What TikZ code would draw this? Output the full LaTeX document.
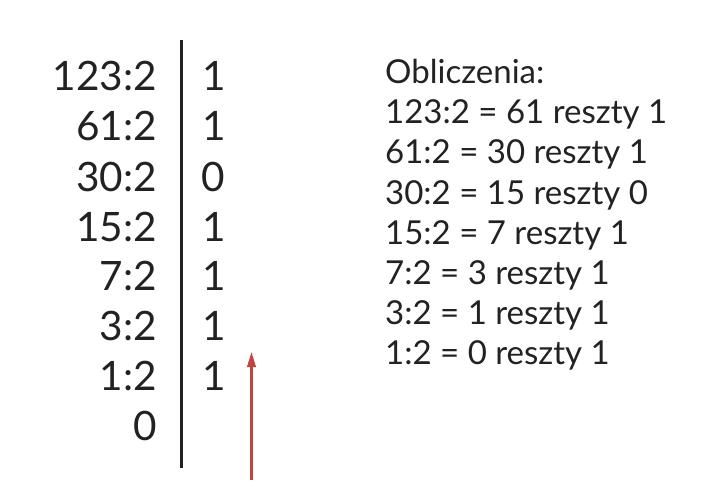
\documentclass[tikz,border=0pt]{standalone}
\usepackage{fontspec}
\setmainfont{Lato}
\usetikzlibrary{arrows.meta}
\definecolor{txt}{HTML}{222222}
\definecolor{arr}{HTML}{C0443F}
\tikzset{
  divl/.style={font=\fontsize{40.5}{40.5}\selectfont, text=txt, anchor=base east, inner sep=0pt},
  rem/.style={font=\fontsize{40.5}{40.5}\selectfont, text=txt, anchor=base, inner sep=0pt},
  calc/.style={font=\fontsize{33}{33}\selectfont, text=txt, anchor=base west, inner sep=0pt},
  bar/.style={line width=3pt, draw=txt},
  upar/.style={line width=2.2pt, draw=arr, -{Triangle[length=15pt,width=8.5pt]}}
}
\begin{document}
\begin{tikzpicture}[x=1pt,y=-1pt]
\useasboundingbox (0,0) rectangle (720,500);
% left column
\node[divl] (d1) at (157,91) {123:2};
\node[divl] (d2) at (157,141) {61:2};
\node[divl] (d3) at (157,191) {30:2};
\node[divl] (d4) at (157,241) {15:2};
\node[divl] (d5) at (157,290) {7:2};
\node[divl] (d6) at (157,340) {3:2};
\node[divl] (d7) at (157,390) {1:2};
\node[divl] (d8) at (157,440) {0};
% remainders
\node[rem] (r1) at (214,91) {1};
\node[rem] (r2) at (214,141) {1};
\node[rem] (r3) at (213,191) {0};
\node[rem] (r4) at (214,241) {1};
\node[rem] (r5) at (214,290) {1};
\node[rem] (r6) at (214,340) {1};
\node[rem] (r7) at (214,390) {1};
% divider line
\coordinate (bt) at (181,40);
\coordinate (bb) at (181,468);
\draw[bar] (bt) -- (bb);
% arrow
\coordinate (as) at (251.5,480);
\coordinate (ae) at (251.5,352);
\draw[upar] (as) -- (ae);
% calculations
\node[calc] (c0) at (385,84) {Obliczenia:};
\node[calc] (c1) at (385,124) {123:2 = 61 reszty 1};
\node[calc] (c2) at (385,164) {61:2 = 30 reszty 1};
\node[calc] (c3) at (385,204) {30:2 = 15 reszty 0};
\node[calc] (c4) at (385,244) {15:2 = 7 reszty 1};
\node[calc] (c5) at (385,284) {7:2 = 3 reszty 1};
\node[calc] (c6) at (385,324) {3:2 = 1 reszty 1};
\node[calc] (c7) at (385,364) {1:2 = 0 reszty 1};
\end{tikzpicture}
\end{document}
